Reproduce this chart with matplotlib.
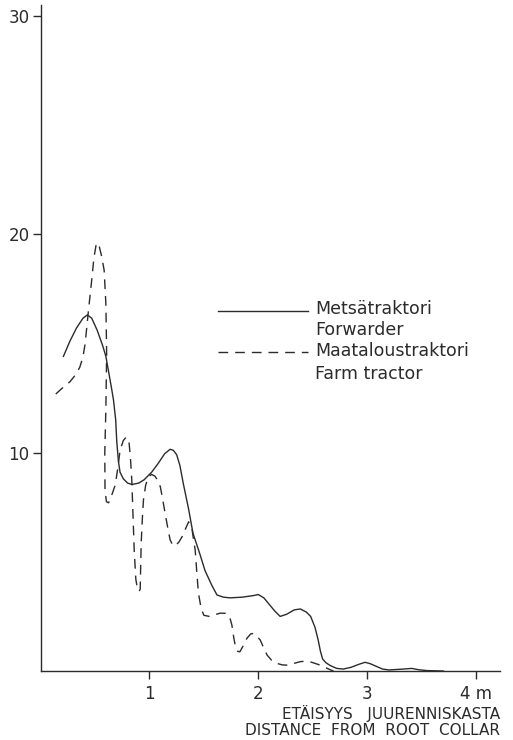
import matplotlib
matplotlib.use("Agg")
import matplotlib.pyplot as plt
from matplotlib.lines import Line2D

plt.rcParams['font.family'] = ['DejaVu Sans']

# distance from root collar (m) and value for the forwarder
forwarder_x = [0.21, 0.27, 0.33, 0.39, 0.43, 0.47, 0.52, 0.57, 0.60, 0.65, 0.67, 0.69,
               0.70, 0.715, 0.73, 0.76, 0.80, 0.84, 0.90, 0.95, 1.02, 1.08, 1.14, 1.19,
               1.22, 1.25, 1.28, 1.31, 1.36, 1.40, 1.46, 1.51, 1.57, 1.62, 1.68, 1.74,
               1.85, 1.95, 2.00, 2.05, 2.10, 2.15, 2.20, 2.26, 2.33, 2.385, 2.44, 2.48,
               2.52, 2.55, 2.57, 2.59, 2.62, 2.66, 2.72, 2.78, 2.85, 2.93, 2.98, 3.03,
               3.08, 3.14, 3.20, 3.30, 3.41, 3.47, 3.55, 3.70]
forwarder_y = [14.4, 15.1, 15.7, 16.15, 16.3, 16.15, 15.6, 14.9, 14.4, 13.0, 12.4, 11.5,
               10.5, 9.6, 9.1, 8.8, 8.6, 8.54, 8.6, 8.75, 9.1, 9.5, 9.95, 10.15,
               10.1, 9.9, 9.4, 8.6, 7.4, 6.3, 5.4, 4.6, 3.95, 3.48, 3.38, 3.35,
               3.38, 3.45, 3.5, 3.35, 3.05, 2.75, 2.5, 2.6, 2.8, 2.84, 2.7, 2.5,
               2.0, 1.4, 0.9, 0.55, 0.38, 0.25, 0.12, 0.09, 0.17, 0.32, 0.40, 0.33,
               0.22, 0.09, 0.05, 0.08, 0.12, 0.06, 0.02, 0.0]

# same for the farm tractor
tractor_x = [0.14, 0.20, 0.27, 0.32, 0.36, 0.39, 0.41, 0.44, 0.47, 0.49, 0.51, 0.525,
             0.54, 0.56, 0.584, 0.60, 0.607, 0.60, 0.59, 0.592, 0.605, 0.625, 0.65, 0.685,
             0.71, 0.73, 0.76, 0.785, 0.81, 0.825, 0.838, 0.85, 0.86, 0.875, 0.89, 0.905,
             0.915, 0.924, 0.935, 0.945, 0.965, 0.99, 1.02, 1.05, 1.08, 1.10, 1.12, 1.144,
             1.17, 1.19, 1.215, 1.236, 1.27, 1.30, 1.33, 1.36, 1.39, 1.405, 1.42, 1.435,
             1.45, 1.475, 1.50, 1.55, 1.59, 1.65, 1.70, 1.735, 1.757, 1.775, 1.79, 1.81,
             1.83, 1.86, 1.895, 1.93, 1.955, 1.985, 2.017, 2.05, 2.08, 2.12, 2.17, 2.22,
             2.26, 2.32, 2.385, 2.44, 2.49, 2.55, 2.60, 2.65, 2.69]
tractor_y = [12.68, 12.95, 13.24, 13.55, 13.9, 14.38, 15.0, 16.5, 17.9, 18.9, 19.5, 19.6,
             19.42, 19.0, 18.35, 16.8, 14.5, 12.0, 10.0, 8.3, 7.75, 7.7, 8.0, 8.5,
             9.3, 10.1, 10.55, 10.7, 10.6, 9.8, 8.74, 7.0, 5.54, 4.2, 3.75, 3.65,
             3.75, 5.84, 7.0, 7.83, 8.5, 8.89, 9.0, 8.92, 8.7, 8.43, 7.9, 7.22,
             6.5, 6.0, 5.75, 5.73, 5.9, 6.15, 6.5, 6.83, 6.53, 6.0, 5.54, 4.5,
             3.56, 2.85, 2.55, 2.5, 2.56, 2.65, 2.64, 2.5, 2.1, 1.5, 1.11, 0.9,
             0.88, 1.15, 1.5, 1.7, 1.72, 1.6, 1.42, 1.05, 0.73, 0.5, 0.35, 0.28,
             0.27, 0.34, 0.43, 0.45, 0.40, 0.3, 0.20, 0.08, 0.0]

x_ticks = [1, 2, 3, 4]
x_tick_labels = ["1", "2", "3", "4 m"]
y_ticks = [10, 20, 30]

ink = "#2b2b2b"

fig = plt.figure(figsize=(5.13, 7.40), dpi=100)
ax = fig.add_axes([0.079, 0.0932, 0.896, 0.9005])

ax.plot(forwarder_x, forwarder_y, color=ink, linewidth=1.0)
ax.plot(tractor_x, tractor_y, color=ink, linewidth=1.0, dashes=(7, 5))

ax.set_xlim(0, 4.22)
ax.set_ylim(0, 30.5)
for side in ["top", "right"]:
    ax.spines[side].set_visible(False)
for side in ["left", "bottom"]:
    ax.spines[side].set_linewidth(1.0)
    ax.spines[side].set_color(ink)

ax.set_xticks(x_ticks)
ax.set_xticklabels(x_tick_labels)
ax.set_yticks(y_ticks)
ax.tick_params(direction="out", length=6, width=1.0, color=ink,
               labelcolor=ink, labelsize=12, pad=2)
ax.tick_params(axis="x", pad=4)

# two-line axis caption, right-aligned under the axis end
ax.text(1.0, -0.063, "ETÄISYYS   JUURENNISKASTA", transform=ax.transAxes,
        ha="right", va="center", fontsize=11, color=ink)
ax.text(1.0, -0.089, "DISTANCE  FROM  ROOT  COLLAR", transform=ax.transAxes,
        ha="right", va="center", fontsize=11, color=ink)

# hand-made legend with labels in Finnish and English
ax.add_line(Line2D([0.386, 0.582], [0.540, 0.540], transform=ax.transAxes,
                   color=ink, linewidth=1.0))
ax.add_line(Line2D([0.386, 0.582], [0.479, 0.479], transform=ax.transAxes,
                   color=ink, linewidth=1.0, dashes=(7, 5)))
ax.text(0.597, 0.543, "Metsätraktori", transform=ax.transAxes,
        ha="left", va="center", fontsize=12.5, color=ink)
ax.text(0.597, 0.512, "Forwarder", transform=ax.transAxes,
        ha="left", va="center", fontsize=12.5, color=ink)
ax.text(0.597, 0.480, "Maataloustraktori", transform=ax.transAxes,
        ha="left", va="center", fontsize=12.5, color=ink)
ax.text(0.597, 0.446, "Farm tractor", transform=ax.transAxes,
        ha="left", va="center", fontsize=12.5, color=ink)

fig.savefig("out.png", dpi=100, facecolor="white")
